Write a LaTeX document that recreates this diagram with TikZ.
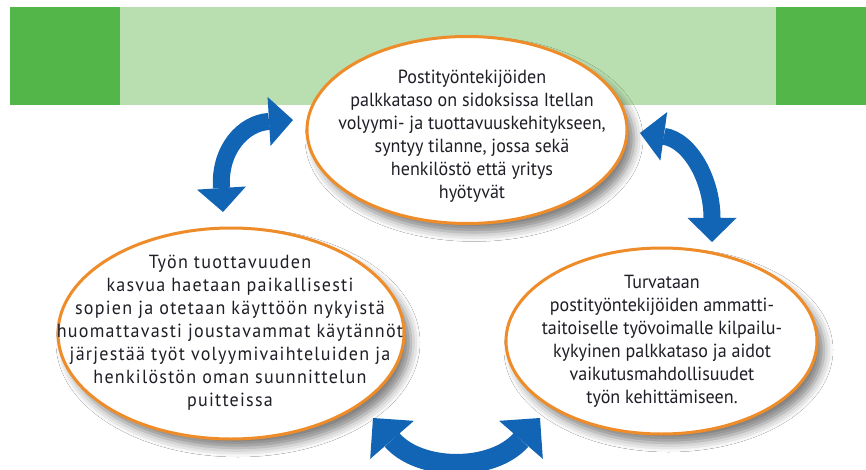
\documentclass[tikz,border=0pt]{standalone}
\usepackage{fontspec}
\setmainfont{PT Sans}[FakeStretch=0.95]
\newfontfamily\leftfont{PT Sans}[FakeStretch=0.95,LetterSpace=6.5]
\usetikzlibrary{shapes.geometric,arrows.meta,shadows.blur}
\definecolor{dkgreen}{RGB}{82,183,72}
\definecolor{ltgreen}{RGB}{185,222,175}
\definecolor{orangeE}{RGB}{238,140,42}
\definecolor{arrowblue}{RGB}{18,100,180}
\definecolor{txtcol}{RGB}{30,30,38}
\begin{document}
\begin{tikzpicture}[x=1pt,y=-1pt,
  bubble/.style={ellipse, draw=orangeE, line width=3pt, fill=white, inner sep=0pt,
    blur shadow={shadow xshift=7pt, shadow yshift=-9pt, shadow blur radius=9pt, shadow opacity=50}},
  txt/.style={align=center, text=txtcol, font=\fontsize{19}{23}\selectfont, inner sep=0pt},
  cyc/.style={draw=arrowblue, line width=17pt,
    {Triangle[width=49pt,length=24pt,line width=0pt]}-{Triangle[width=49pt,length=24pt,line width=0pt]}},
  cycb/.style={draw=arrowblue, line width=20pt,
    {Triangle[width=58pt,length=29pt,line width=0pt]}-{Triangle[width=58pt,length=29pt,line width=0pt]}}]
\useasboundingbox (0,0) rectangle (866,470);
\clip (0,0) rectangle (866,470);
\fill[white] (0,0) rectangle (866,470);
% green band
\fill[ltgreen] (120,7) rectangle (776,105);
\fill[dkgreen] (10,7) rectangle (120,105);
\fill[dkgreen] (776,7) rectangle (866,105);
% arrows
\coordinate (a1s) at (223,212);
\coordinate (a1e) at (293,120);
\draw[cyc] (a1s) .. controls (219,150) and (243,123) .. (a1e);
\coordinate (a2s) at (640,133);
\coordinate (a2e) at (712,242);
\draw[cyc] (a2s) .. controls (690,140) and (712,180) .. (a2e);
\coordinate (a3s) at (373,418);
\coordinate (a3e) at (540,418);
\draw[cycb] (a3s) .. controls (420,472) and (493,472) .. (a3e);
% bubbles
\node[bubble, minimum width=320pt, minimum height=187pt] (top) at (467,130) {};
\node[bubble, minimum width=346pt, minimum height=211pt] (left) at (231,333.5) {};
\node[bubble, minimum width=311pt, minimum height=186pt] (right) at (661.5,341) {};
\node[txt] (toptxt) at (472,136) {Postityöntekijöiden\\palkkataso on sidoksissa Itellan\\volyymi- ja tuottavuuskehitykseen,\\syntyy tilanne, jossa sekä\\henkilöstö että yritys\\hyötyvät};
\node[txt, font=\leftfont\fontsize{19}{23}\selectfont] (lefttxt) at (230,333) {Työn tuottavuuden\\kasvua haetaan paikallisesti\\sopien ja otetaan käyttöön nykyistä\\huomattavasti joustavammat käytännöt\\järjestää työt volyymivaihteluiden ja\\henkilöstön oman suunnittelun\\puitteissa};
\node[txt] (righttxt) at (662,341) {Turvataan\\postityöntekijöiden ammatti-\\taitoiselle työvoimalle kilpailu-\\kykyinen palkkataso ja aidot\\vaikutusmahdollisuudet\\työn kehittämiseen.};
\end{tikzpicture}
\end{document}
